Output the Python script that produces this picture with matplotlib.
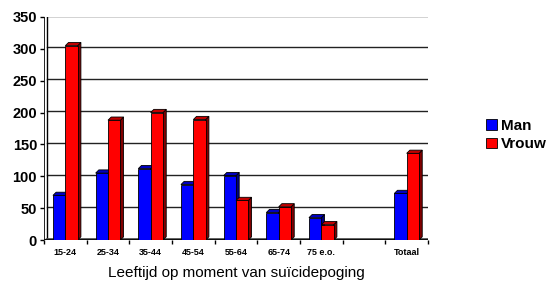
import matplotlib.pyplot as plt
from matplotlib.patches import Polygon, Rectangle
from matplotlib.transforms import ScaledTranslation

plt.rcParams['font.family'] = ['Liberation Sans', 'DejaVu Sans']

categories = ['15-24', '25-34', '35-44', '45-54', '55-64', '65-74', '75 e.o.', '', 'Totaal']
man = [70, 105, 112, 87, 101, 43, 35, None, 73]
vrouw = [305, 188, 200, 189, 62, 52, 24, None, 136]
yticks = [0, 50, 100, 150, 200, 250, 300, 350]

fig = plt.figure(figsize=(5.49, 2.85), dpi=100)
ax = fig.add_axes([44 / 549, 45 / 285, 384 / 549, 223 / 285])
ax.set_xlim(0, len(categories))
ax.set_ylim(0, 350)
for s in ax.spines.values():
    s.set_visible(False)

# 3d depth in data units
dx = 3.2 / 42.67
dy = 3.2 / (223 / 350)
bw = 0.29
n = len(categories)

# back wall offset
wall = ax.transData + ScaledTranslation(3 / 100, 1.5 / 100, fig.dpi_scale_trans)
for y in yticks[1:]:
    ax.plot([0, n], [y, y], color='#222222', lw=1.0, transform=wall, zorder=1)
ax.plot([n, n], [0, 350], color='black', lw=1.0, transform=wall, zorder=1)
ax.plot([0, 0], [0, 350], color='black', lw=1.0, transform=wall, zorder=1)
ax.plot([0, 0], [0, 350], color='black', lw=1.2, zorder=2)
# floor
fh = 1.5 * 350 / 223
ax.add_patch(Polygon([(0, 0), (n, 0), (n + 0.07, fh), (0.07, fh)], closed=True,
                     facecolor='#707070', edgecolor='#404040', lw=0.5, zorder=2))
ax.plot([0, n], [0, 0], color='black', lw=1.2, zorder=2)


def bar3d(x0, h, front, side, top):
    ax.add_patch(Polygon([(x0 + bw, 0), (x0 + bw + dx, dy), (x0 + bw + dx, h + dy), (x0 + bw, h)],
                         closed=True, facecolor=side, edgecolor='black', lw=0.6, zorder=3))
    ax.add_patch(Polygon([(x0, h), (x0 + dx, h + dy), (x0 + bw + dx, h + dy), (x0 + bw, h)],
                         closed=True, facecolor=top, edgecolor='black', lw=0.6, zorder=3))
    ax.add_patch(Rectangle((x0, 0), bw, h, facecolor=front, edgecolor='black', lw=0.6, zorder=3))


for i, (m, v) in enumerate(zip(man, vrouw)):
    c = i + 0.5
    if m is not None:
        bar3d(c - bw, m, '#0000ff', '#000080', '#0000c0')
    if v is not None:
        bar3d(c, v, '#ff0000', '#800000', '#c00000')

ax.set_yticks(yticks)
ax.set_yticklabels([str(t) for t in yticks], fontsize=10.5, fontweight='bold')
ax.tick_params(axis='y', length=3, width=1, pad=2)
ax.set_xticks([i + 0.5 for i in range(n)])
ax.set_xticklabels(categories, fontsize=6.5, fontweight='bold')
ax.set_xticks(range(n + 1), minor=True)
ax.tick_params(axis='x', which='major', length=0, pad=6)
ax.tick_params(axis='x', which='minor', length=3, width=1)
ax.set_xlabel('Leeftijd op moment van suïcidepoging', fontsize=11, labelpad=6)

h1 = Rectangle((0, 0), 1, 1, facecolor='#0000ff', edgecolor='black', lw=0.6)
h2 = Rectangle((0, 0), 1, 1, facecolor='#ff0000', edgecolor='black', lw=0.6)
ax.legend([h1, h2], ['Man', 'Vrouw'], loc='center left', frameon=False,
          bbox_to_anchor=(480 / 549, 150 / 285), bbox_transform=fig.transFigure,
          prop={'size': 11, 'weight': 'bold'}, handlelength=0.7, handleheight=0.7,
          handletextpad=0.3, labelspacing=0.3, borderaxespad=0)

fig.savefig('out.png', dpi=100)
